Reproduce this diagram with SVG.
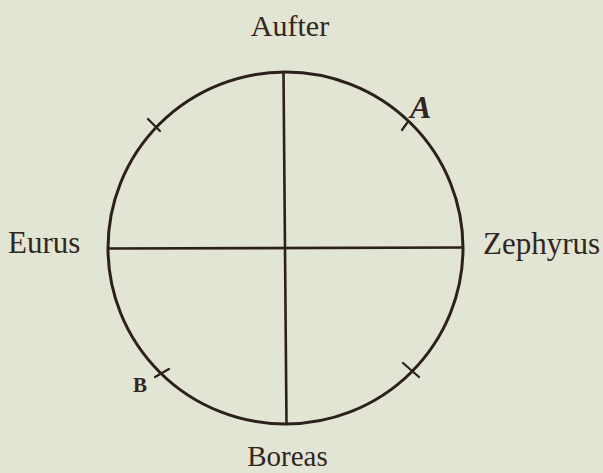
<svg xmlns="http://www.w3.org/2000/svg" width="603" height="473" viewBox="0 0 603 473">
<style>
.ink{stroke:#2c201c;fill:none;stroke-linecap:round}
.lbl{font-family:"Liberation Serif","DejaVu Serif",serif;fill:#33261f}
</style>
<rect width="603" height="473" fill="#e2e4d4"/>
<g id="circle">
<ellipse class="ink" cx="285.5" cy="248" rx="177.5" ry="176" stroke-width="3"/>
</g>
<g id="connectors">
<line class="ink" x1="283.5" y1="73" x2="286.5" y2="423" stroke-width="2.6"/>
<line class="ink" x1="109" y1="248.5" x2="462" y2="247.5" stroke-width="2.6"/>
<line class="ink" x1="148" y1="119" x2="160" y2="131" stroke-width="2.2"/>
<line class="ink" x1="402" y1="130" x2="407" y2="123" stroke-width="2.2"/>
<line class="ink" x1="155" y1="377" x2="169" y2="369" stroke-width="2.2"/>
<line class="ink" x1="403" y1="363" x2="419" y2="377" stroke-width="2.2"/>
</g>
<g id="auster"><text class="lbl" x="290" y="36" font-size="30" text-anchor="middle">Aufter</text></g>
<g id="eurus"><text class="lbl" x="8" y="253" font-size="31">Eurus</text></g>
<g id="zephyrus"><text class="lbl" x="483" y="254" font-size="31">Zephyrus</text></g>
<g id="boreas"><text class="lbl" x="287.5" y="466" font-size="29" text-anchor="middle">Boreas</text></g>
<g id="pointA"><text class="lbl" x="410" y="118" font-size="32" font-style="italic" font-weight="bold">A</text></g>
<g id="pointB"><text class="lbl" x="133" y="392" font-size="21" font-weight="bold">B</text></g>
</svg>
